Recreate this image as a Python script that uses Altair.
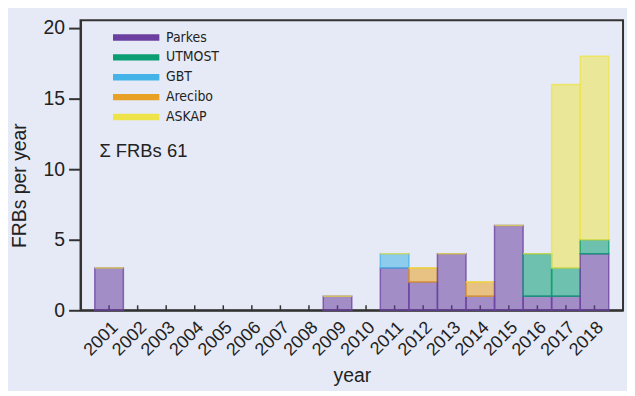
import altair as alt
import pandas as pd

years = [str(y) for y in range(2001, 2019)]
telescopes = ["Parkes", "UTMOST", "GBT", "Arecibo", "ASKAP"]
colors = ["#6a3fa0", "#0a9e72", "#45b3e7", "#e8a025", "#eee44a"]

parkes  = [3, 0, 0, 0, 0, 0, 0, 0, 1, 0, 3, 2, 4, 1, 6, 1, 1, 4]
utmost  = [0, 0, 0, 0, 0, 0, 0, 0, 0, 0, 0, 0, 0, 0, 0, 3, 2, 1]
gbt     = [0, 0, 0, 0, 0, 0, 0, 0, 0, 0, 1, 0, 0, 0, 0, 0, 0, 0]
arecibo = [0, 0, 0, 0, 0, 0, 0, 0, 0, 0, 0, 1, 0, 1, 0, 0, 0, 0]
askap   = [0, 0, 0, 0, 0, 0, 0, 0, 0, 0, 0, 0, 0, 0, 0, 0, 13, 13]
total_label = "Σ FRBs 61"

series = [parkes, utmost, gbt, arecibo, askap]
rows = []
for i, yr in enumerate(years):
    tot = sum(s[i] for s in series)
    for k, (name, s) in enumerate(zip(telescopes, series)):
        if s[i] > 0 or (name == "ASKAP" and tot > 0):
            rows.append({"year": yr, "telescope": name, "n": s[i], "idx": k})
df = pd.DataFrame(rows)
ticks_df = pd.DataFrame({"year": years})

FONT = "Liberation Sans"
NARROW = "'Liberation Sans Narrow', 'DejaVu Sans Condensed', Roboto, sans-serif"
BG = "#e6eaf6"
INK = "#222222"
AX = "#333333"

xscale = alt.Scale(domain=years, paddingInner=0, paddingOuter=0.5)
yscale = alt.Scale(domain=[0, 20.55], nice=False, zero=True)

x_axis = alt.Axis(
    title="year", labelAngle=-45, labelAlign="right", labelBaseline="top",
    labelFontSize=18, labelPadding=8, ticks=False, domain=True,
    domainColor=AX, domainWidth=2, titleFontSize=19.5, titlePadding=8,
    titleFontWeight="normal", labelColor=INK, titleColor=INK,
    labelFont=FONT, titleFont=FONT, grid=False,
)
y_axis = alt.Axis(
    title="FRBs per year", values=[0, 5, 10, 15, 20], tickSize=12, tickWidth=2,
    tickColor=AX, domainColor=AX, domainWidth=2, labelFontSize=19.5,
    labelPadding=4, titleFontSize=19.5, titleFontWeight="normal",
    labelColor=INK, titleColor=INK, labelFont=FONT, titleFont=FONT,
    grid=False, titleX=-61, titleY=166, titleBaseline="middle", titleAlign="center",
)

tick_layer = alt.Chart(ticks_df).mark_rule(color=AX, strokeWidth=1.5).encode(
    x=alt.X("year:N", scale=xscale, sort=years, axis=x_axis),
    y=alt.datum(0, scale=yscale),
    y2=alt.value(287),
)

bars = alt.Chart(df).mark_bar(fillOpacity=0.55, strokeWidth=1.5, strokeOpacity=0.75).encode(
    x=alt.X("year:N", scale=xscale, sort=years, axis=x_axis),
    y=alt.Y("sum(n):Q", scale=yscale, axis=y_axis, stack="zero"),
    color=alt.Color(
        "telescope:N",
        scale=alt.Scale(domain=telescopes, range=colors),
        legend=alt.Legend(
            title=None, orient="none", legendX=49, legendY=10.5, padding=0,
            symbolType="M-4,-0.55H4V0.55H-4Z", symbolSize=136,
            symbolOpacity=1, symbolStrokeWidth=0, labelOffset=23,
            labelFont=NARROW, labelFontSize=14,
            labelColor=INK, rowPadding=6,
        ),
    ),
    stroke=alt.Stroke("telescope:N", scale=alt.Scale(domain=telescopes, range=colors), legend=None),
    order=alt.Order("idx:Q", sort="ascending"),
)

note = alt.Chart(pd.DataFrame({"t": [total_label]})).mark_text(
    align="left", baseline="alphabetic", font=FONT, fontSize=18.5, color=INK
).encode(text="t:N", x=alt.value(19), y=alt.value(138))

chart = alt.layer(tick_layer, bars, note).properties(
    width=546, height=292, background=BG,
    padding={"left": 73, "top": 11, "right": 4, "bottom": 80},
    autosize=alt.AutoSizeParams(type="none"),
).configure_view(stroke=AX, strokeWidth=2, fill=BG)

chart.save("out.html", embed_options={"renderer": "svg", "actions": False})
